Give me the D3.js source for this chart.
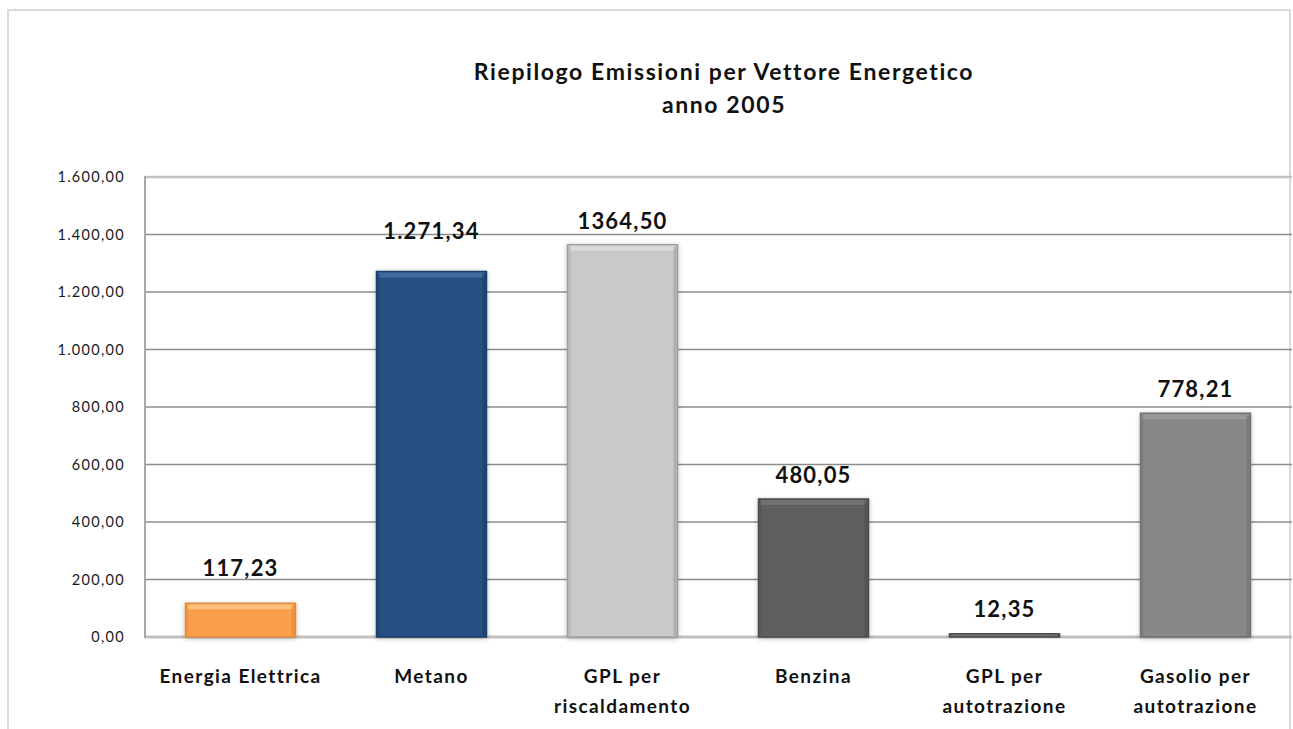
<!DOCTYPE html>
<html>
<head>
<meta charset="utf-8">
<script src="https://cdn.jsdelivr.net/npm/d3@7"></script>
<style>
  html, body { margin: 0; padding: 0; background: #fff; }
  svg { display: block; }
</style>
</head>
<body>
<svg id="chart" width="1293" height="729"></svg>
<script>
// ---- data ----
const categories = [
  ["Energia Elettrica"],
  ["Metano"],
  ["GPL per", "riscaldamento"],
  ["Benzina"],
  ["GPL per", "autotrazione"],
  ["Gasolio per", "autotrazione"]
];
const values = [117.23, 1271.34, 1364.50, 480.05, 12.35, 778.21];
const valueLabels = ["117,23", "1.271,34", "1364,50", "480,05", "12,35", "778,21"];
const yTicks = [0, 200, 400, 600, 800, 1000, 1200, 1400, 1600];
const yTickLabels = ["0,00", "200,00", "400,00", "600,00", "800,00", "1.000,00", "1.200,00", "1.400,00", "1.600,00"];
const titleLines = ["Riepilogo Emissioni per Vettore Energetico", "anno 2005"];

// ---- styles (separate from data) ----
const barColors = ["#F99F4B", "#265083", "#C9C9C9", "#5F5F5F", "#606060", "#888888"];
const barEdge   = ["#E0873A", "#1B3D66", "#9C9C9C", "#4C4C4C", "#4C4C4C", "#707070"];
const barTop    = ["#FFC983", "#4570A5", "#DEDEDE", "#767676", "#767676", "#9E9E9E"];
const labelNudge = [11, 16, 0, 0, 0, 0];

const FONT = "Lato, 'Open Sans', sans-serif";
const svg = d3.select("#chart");

// outer border
svg.append("rect")
  .attr("x", 8).attr("y", 10).attr("width", 1282).attr("height", 730)
  .attr("fill", "#fff").attr("stroke", "#DADADA").attr("stroke-width", 2);

const plot = { left: 145, right: 1291, top: 177, bottom: 637 };

const x = d3.scaleBand()
  .domain(d3.range(categories.length))
  .range([plot.left, plot.right])
  .paddingInner(0.424)
  .paddingOuter(0.212);

const y = d3.scaleLinear().domain([0, 1600]).range([plot.bottom, plot.top]);

// defs: shadow
const defs = svg.append("defs");
const f = defs.append("filter").attr("id", "shadow")
  .attr("x", "-10%").attr("y", "-10%").attr("width", "120%").attr("height", "125%");
f.append("feGaussianBlur").attr("in", "SourceAlpha").attr("stdDeviation", 2.5).attr("result", "b");
f.append("feOffset").attr("in", "b").attr("dx", 0).attr("dy", 1).attr("result", "o");
f.append("feComponentTransfer").attr("in", "o").attr("result", "s")
  .append("feFuncA").attr("type", "linear").attr("slope", 0.25);
const m = f.append("feMerge");
m.append("feMergeNode").attr("in", "s");
m.append("feMergeNode").attr("in", "SourceGraphic");

// gridlines
const grid = svg.append("g");
grid.selectAll("line").data(yTicks).join("line")
  .attr("x1", plot.left).attr("x2", 1292)
  .attr("y1", d => y(d)).attr("y2", d => y(d))
  .attr("stroke", (d, i) => (i === 0 || i === yTicks.length - 1) ? "#C0C0C0" : "#8C8C8C")
  .attr("stroke-width", (d, i) => i === 0 ? 3 : (i === yTicks.length - 1 ? 2.5 : 1.6));

// left axis line
svg.append("line")
  .attr("x1", plot.left).attr("x2", plot.left)
  .attr("y1", plot.top - 1).attr("y2", plot.bottom + 1)
  .attr("stroke", "#A8A8A8").attr("stroke-width", 2);

// y labels
svg.append("g").selectAll("text").data(yTicks).join("text")
  .attr("x", 125).attr("y", d => y(d))
  .attr("dy", "0.35em")
  .attr("text-anchor", "end")
  .attr("font-family", FONT).attr("font-size", 14.5)
  .attr("letter-spacing", 1.3)
  .attr("fill", "#1a1a1a")
  .text((d, i) => yTickLabels[i]);

// bars
const bars = svg.append("g").selectAll("g").data(values).join("g");
bars.append("rect")
  .attr("x", (d, i) => x(i)).attr("y", d => y(d))
  .attr("width", x.bandwidth()).attr("height", d => y(0) - y(d))
  .attr("fill", (d, i) => barColors[i])
  .attr("stroke", (d, i) => barEdge[i]).attr("stroke-width", 1.5)
  .attr("filter", "url(#shadow)");
// top bevel highlight
bars.append("rect")
  .attr("x", (d, i) => x(i) + 2).attr("y", d => y(d) + 1)
  .attr("width", x.bandwidth() - 4)
  .attr("height", d => Math.min(5, Math.max(0, y(0) - y(d) - 2)))
  .attr("fill", (d, i) => barTop[i]).attr("opacity", 0.85);
// side bevels
bars.append("rect")
  .attr("x", (d, i) => x(i) + x.bandwidth() - 4).attr("y", d => y(d) + 2)
  .attr("width", 3).attr("height", d => Math.max(0, y(0) - y(d) - 3))
  .attr("fill", (d, i) => barEdge[i]).attr("opacity", 0.6);
bars.append("rect")
  .attr("x", (d, i) => x(i) + 1).attr("y", d => y(d) + 2)
  .attr("width", 2).attr("height", d => Math.max(0, y(0) - y(d) - 3))
  .attr("fill", (d, i) => barEdge[i]).attr("opacity", 0.4);

// value labels
svg.append("g").selectAll("text").data(values).join("text")
  .attr("x", (d, i) => x(i) + x.bandwidth() / 2)
  .attr("y", (d, i) => y(d) - 16 - labelNudge[i])
  .attr("text-anchor", "middle")
  .attr("font-family", FONT).attr("font-weight", "bold").attr("font-size", 22)
  .attr("letter-spacing", 1.2)
  .attr("fill", "#111")
  .text((d, i) => valueLabels[i]);

// category labels
const cat = svg.append("g").selectAll("text").data(categories).join("text")
  .attr("x", (d, i) => x(i) + x.bandwidth() / 2)
  .attr("y", 683)
  .attr("text-anchor", "middle")
  .attr("font-family", FONT).attr("font-weight", "bold").attr("font-size", 19)
  .attr("letter-spacing", 1.4)
  .attr("fill", "#111");
cat.selectAll("tspan").data(d => d).join("tspan")
  .attr("x", function () { return d3.select(this.parentNode).attr("x"); })
  .attr("dy", (d, j) => j === 0 ? 0 : 30)
  .text(d => d);

// title
svg.append("g").selectAll("text").data(titleLines).join("text")
  .attr("x", 724)
  .attr("y", (d, i) => 80 + i * 33)
  .attr("text-anchor", "middle")
  .attr("font-family", FONT).attr("font-weight", "bold").attr("font-size", 23)
  .attr("letter-spacing", 1.6)
  .attr("fill", "#111")
  .text(d => d);
</script>
</body>
</html>
